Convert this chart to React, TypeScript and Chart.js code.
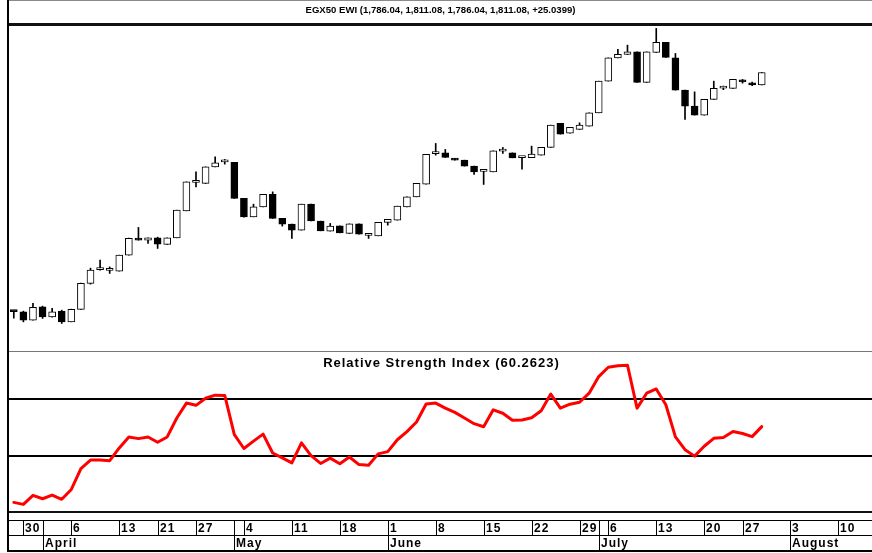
import React, { useEffect, useRef } from 'react';
import { Chart, registerables } from 'chart.js';

Chart.register(...registerables);

// ---- data ----
// one category per trading-day slot on the axis (slot 0 = first candle); 90 slots in the visible range
const categories: string[] = Array.from({ length: 90 }, (_, i) => `d${i}`);

const opens = [
  1333.7, 1332.3, 1315.7, 1342.3, 1322.3, 1333.7, 1312.3, 1337.1, 1389.1, 1416.7,
  1415.1, 1413.7, 1445.7, 1478.7, 1475.7, 1480.3, 1467.1, 1480.3, 1534.3, 1591.1,
  1589.1, 1622.3, 1632.3, 1631.1, 1559.1, 1522.3, 1542.3, 1567.1, 1519.1, 1507.7,
  1495.7, 1547.7, 1513.7, 1493.7, 1504.3, 1489.1, 1508.3, 1485.1, 1484.3, 1511.1,
  1515.7, 1542.3, 1562.3, 1587.7, 1648.7, 1650.3, 1639.1, 1635.7, 1623.7, 1613.1,
  1612.3, 1653.7, 1650.3, 1640.7, 1640.7, 1645.7, 1661.1, 1709.1, 1689.7, 1697.1,
  1703.7, 1730.3, 1793.7, 1840.3, 1847.1, 1852.3, 1791.1, 1851.1, 1871.1, 1840.3,
  1775.7, 1743.7, 1725.7, 1757.1, 1779.7, 1779.1, 1795.7, 1790.5, 1786.04,
];
const highs = [
  1334.7, 1333.7, 1349.1, 1343.7, 1339.1, 1335.7, 1337.7, 1389.7, 1419.7, 1435.7,
  1422.3, 1445.7, 1479.7, 1501.1, 1480.3, 1481.7, 1480.3, 1535.7, 1592.3, 1612.3,
  1622.3, 1642.3, 1637.1, 1631.1, 1559.1, 1547.7, 1567.1, 1572.3, 1519.1, 1507.7,
  1547.7, 1547.7, 1513.7, 1509.1, 1504.3, 1508.3, 1508.3, 1489.1, 1511.1, 1517.1,
  1543.7, 1562.3, 1589.1, 1647.1, 1669.1, 1657.1, 1639.1, 1635.7, 1623.7, 1613.7,
  1654.3, 1661.1, 1650.3, 1641.7, 1663.7, 1661.1, 1705.7, 1709.1, 1701.1, 1710.3,
  1730.3, 1793.7, 1840.3, 1857.1, 1865.7, 1852.3, 1852.3, 1899.1, 1871.1, 1849.1,
  1775.7, 1772.3, 1757.1, 1793.7, 1783.7, 1797.1, 1797.1, 1791.7, 1811.08,
];
const lows = [
  1319.7, 1312.3, 1315.7, 1319.1, 1321.7, 1309.1, 1312.3, 1337.1, 1387.7, 1415.7,
  1409.1, 1413.7, 1445.7, 1475.7, 1469.1, 1459.1, 1467.1, 1480.3, 1534.3, 1582.3,
  1589.1, 1622.3, 1627.7, 1559.1, 1521.7, 1522.3, 1542.3, 1519.1, 1503.7, 1479.1,
  1495.7, 1514.3, 1494.3, 1493.7, 1490.3, 1489.1, 1487.7, 1479.1, 1484.3, 1505.7,
  1515.7, 1542.3, 1562.3, 1587.7, 1645.7, 1641.1, 1635.7, 1623.7, 1607.1, 1587.1,
  1612.3, 1649.1, 1640.3, 1617.7, 1640.7, 1645.7, 1661.1, 1687.7, 1689.7, 1697.1,
  1703.7, 1730.3, 1793.7, 1840.3, 1847.1, 1791.1, 1791.1, 1851.1, 1841.1, 1775.7,
  1717.1, 1725.7, 1725.7, 1757.1, 1776.7, 1779.1, 1789.7, 1784.7, 1786.04,
];
const closes = [
  1332.7, 1315.7, 1341.1, 1322.3, 1332.3, 1312.3, 1337.1, 1389.1, 1415.7, 1417.7,
  1415.7, 1445.7, 1479.1, 1475.9, 1480.3, 1467.7, 1480.3, 1535.7, 1592.3, 1592.1,
  1622.3, 1630.3, 1633.3, 1559.1, 1522.3, 1542.3, 1567.1, 1519.1, 1507.7, 1495.7,
  1547.7, 1514.3, 1494.3, 1503.7, 1490.3, 1508.3, 1487.7, 1485.7, 1511.1, 1517.1,
  1543.7, 1562.3, 1589.1, 1647.1, 1649.7, 1641.1, 1635.7, 1623.7, 1612.3, 1613.7,
  1654.3, 1654.5, 1640.3, 1641.5, 1647.7, 1661.1, 1705.7, 1687.7, 1701.1, 1705.7,
  1730.3, 1793.7, 1840.3, 1847.1, 1852.3, 1791.1, 1852.3, 1871.1, 1841.1, 1775.7,
  1743.7, 1725.7, 1757.1, 1779.1, 1780.7, 1797.1, 1792.3, 1786.04, 1811.08,
];
const rsiValues = [
  33.4, 32.7, 35.9, 34.7, 36.0, 34.5, 38.0, 45.4, 48.4, 48.4,
  48.2, 52.7, 56.6, 56.0, 56.6, 54.7, 56.6, 63.3, 68.6, 67.8,
  70.3, 71.4, 71.3, 57.4, 52.5, 55.1, 57.6, 50.9, 49.2, 47.4,
  54.5, 50.0, 47.2, 49.1, 47.1, 49.5, 46.8, 46.6, 50.6, 51.4,
  55.6, 58.5, 61.9, 68.3, 68.6, 66.8, 65.3, 63.3, 61.3, 60.2,
  66.2, 65.0, 62.5, 62.6, 63.4, 65.9, 71.8, 66.8, 68.2, 68.9,
  72.1, 78.0, 81.3, 81.8, 82.0, 66.8, 72.1, 73.6, 68.0, 56.6,
  52.1, 49.8, 53.3, 56.1, 56.4, 58.5, 57.8, 56.7, 60.2623,
];
const rsiLevels = [70, 50];

const dayTickIndex = [1, 6, 11, 15, 19, 24, 29, 34, 39, 44, 49, 54, 59, 62, 67, 72, 76, 81, 86];
const dayTickLabels = ['30', '6', '13', '21', '27', '4', '11', '18', '1', '8', '15', '22', '29', '6', '13', '20', '27', '3', '10'];
const monthTickIndex = [3, 23, 39, 61, 81];
const monthTickLabels = ['April', 'May', 'June', 'July', 'August'];

const priceTitle = 'EGX50 EWI (1,786.04, 1,811.08, 1,786.04, 1,811.08, +25.0399)';
const rsiTitle = 'Relative Strength Index (60.2623)';

const FONT = '"Liberation Sans", Arial, Helvetica, sans-serif';

const framePlugin = {
  id: 'frame',
  beforeDatasetsDraw(chart: any) {
    const ctx = chart.ctx as CanvasRenderingContext2D;
    const a = chart.chartArea;
    const yR = chart.scales.yRsi;
    ctx.save();
    ctx.fillStyle = '#000';
    for (const lv of rsiLevels) {
      const y = Math.round(yR.getPixelForValue(lv));
      ctx.fillRect(a.left, y - 1, a.right - a.left, 2);
    }
    ctx.restore();
  },
  afterDraw(chart: any) {
    const ctx = chart.ctx as CanvasRenderingContext2D;
    const a = chart.chartArea;
    const xS = chart.scales.x;
    const yP = chart.scales.yPrice;
    const W = chart.width;
    ctx.save();
    // top grey rule
    ctx.fillStyle = '#8a8a8a';
    ctx.fillRect(7, 0, W - 7, 1);
    // thick rule under title
    ctx.fillStyle = '#111';
    ctx.fillRect(7, 23, W - 7, 3);
    // pane separator
    ctx.fillStyle = '#777';
    ctx.fillRect(a.left, Math.round(yP.bottom) - 1, a.right - a.left, 1);
    // bottom of RSI pane
    ctx.fillStyle = '#111';
    ctx.fillRect(a.left, Math.round(a.bottom) - 1, a.right - a.left, 2);
    // axis rows
    ctx.fillStyle = '#000';
    ctx.fillRect(a.left, 520, a.right - a.left, 1);
    ctx.fillRect(a.left, 535, a.right - a.left, 1);
    ctx.fillRect(a.left, 550, a.right - a.left, 2);
    // left border
    ctx.fillRect(7, 0, 2, 552);

    // day ticks
    ctx.font = `bold 12px ${FONT}`;
    (ctx as any).letterSpacing = '1px';
    ctx.textAlign = 'left';
    ctx.textBaseline = 'alphabetic';
    dayTickIndex.forEach((idx, i) => {
      const x = Math.round(xS.getPixelForValue(idx));
      ctx.fillRect(x, 520, 1, 15);
      ctx.fillText(dayTickLabels[i], x + 2, 532);
    });
    monthTickIndex.forEach((idx, i) => {
      const x = Math.round(xS.getPixelForValue(idx));
      ctx.fillRect(x, 520, 1, 31);
      ctx.fillText(monthTickLabels[i], x + 2, 547);
    });

    // RSI title
    ctx.font = `bold 13px ${FONT}`;
    (ctx as any).letterSpacing = '1px';
    ctx.textAlign = 'center';
    ctx.fillText(rsiTitle, (a.left + a.right) / 2 + 1, 367);

    // main title (fit to measured width)
    (ctx as any).letterSpacing = '0px';
    ctx.font = `bold 9px ${FONT}`;
    const tw = ctx.measureText(priceTitle).width;
    const target = 270;
    ctx.translate((a.left + a.right) / 2, 13);
    ctx.scale(target / tw, 1);
    ctx.textAlign = 'center';
    ctx.fillText(priceTitle, 0, 0);
    ctx.restore();
  },
};

export default function App() {
  const ref = useRef<HTMLCanvasElement>(null);
  useEffect(() => {
    document.body.style.margin = '0';
    const canvas = ref.current;
    if (!canvas) return;
    const bodies = opens.map((o, i) => [o, closes[i]]);
    const wicks = lows.map((l, i) => [l, highs[i]]);
    const fills = opens.map((o, i) => (closes[i] >= o ? '#ffffff' : '#000000'));
    const chart = new Chart(canvas, {
      type: 'bar',
      data: {
        labels: categories,
        datasets: [
          {
            type: 'line',
            label: 'RSI',
            data: rsiValues,
            yAxisID: 'yRsi',
            borderColor: '#ff0000',
            borderWidth: 3,
            pointRadius: 0,
            tension: 0,
            borderJoinStyle: 'round',
            borderCapStyle: 'round',
            order: 0,
          } as any,
          {
            type: 'bar',
            label: 'body',
            data: bodies,
            yAxisID: 'yPrice',
            backgroundColor: fills,
            borderColor: '#000000',
            borderWidth: 1,
            borderSkipped: false,
            barThickness: 7,
            minBarLength: 2,
            grouped: false,
            order: 1,
          } as any,
          {
            type: 'bar',
            label: 'wick',
            data: wicks,
            yAxisID: 'yPrice',
            backgroundColor: '#000000',
            borderWidth: 0,
            barThickness: 1,
            grouped: false,
            order: 2,
          } as any,
        ],
      },
      options: {
        animation: false,
        responsive: false,
        maintainAspectRatio: false,
        layout: { padding: { left: 9, top: 26, right: 0, bottom: 41 } },
        plugins: { legend: { display: false }, tooltip: { enabled: false } },
        scales: {
          x: { type: 'category', offset: true, display: false },
          yPrice: {
            type: 'linear', position: 'left', stack: 'panes', stackWeight: 326, weight: 1,
            min: 1252, max: 1904, display: false,
          },
          yRsi: {
            type: 'linear', position: 'left', stack: 'panes', stackWeight: 160, weight: 0,
            min: 30, max: 86.7, display: false,
          },
        } as any,
      },
      plugins: [framePlugin],
    });
    return () => chart.destroy();
  }, []);
  return <canvas ref={ref} width={872} height={553} style={{ display: 'block' }} />;
}
